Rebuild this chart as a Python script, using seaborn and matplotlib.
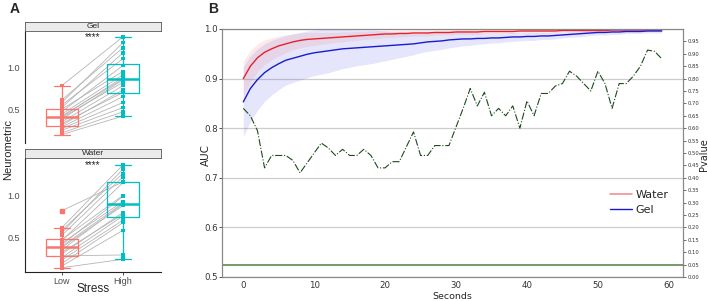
import numpy as np
import pandas as pd
import matplotlib
matplotlib.use("Agg")
import matplotlib.pyplot as plt
import seaborn as sns
from matplotlib.lines import Line2D

# ---- Panel A data: paired neurometric values per subject ----
stress_levels = ["Low", "High"]
gel_low = [0.78, 0.61, 0.58, 0.55, 0.52, 0.50, 0.47, 0.44, 0.42, 0.41,
           0.40, 0.38, 0.35, 0.33, 0.31, 0.29, 0.27, 0.25, 0.22, 0.20]
gel_high = [1.36, 1.23, 1.29, 1.10, 1.17, 0.95, 1.02, 0.91, 0.86, 0.88,
            0.82, 0.85, 0.78, 0.70, 0.73, 0.65, 0.58, 0.52, 0.47, 0.42]
water_low = [0.82, 0.62, 0.59, 0.56, 0.53, 0.48, 0.47, 0.44, 0.42, 0.40,
             0.39, 0.36, 0.33, 0.31, 0.29, 0.27, 0.24, 0.20, 0.17, 0.15]
water_high = [1.16, 1.36, 1.26, 1.31, 1.22, 1.00, 1.15, 0.93, 0.99, 0.91,
              0.88, 0.90, 0.78, 0.80, 0.30, 0.76, 0.71, 0.68, 0.59, 0.25]

# ---- Panel B data: AUC over time and p-value ----
seconds = list(range(60))
water_auc = [0.900, 0.925, 0.942, 0.953, 0.960, 0.966, 0.970, 0.974, 0.977, 0.979,
             0.980, 0.981, 0.982, 0.983, 0.984, 0.985, 0.986, 0.987, 0.988, 0.989,
             0.990, 0.990, 0.991, 0.991, 0.992, 0.992, 0.992, 0.993, 0.993, 0.993,
             0.994, 0.994, 0.994, 0.994, 0.995, 0.995, 0.995, 0.995, 0.995, 0.996,
             0.996, 0.996, 0.996, 0.996, 0.996, 0.997, 0.997, 0.997, 0.997, 0.997,
             0.997, 0.997, 0.998, 0.998, 0.998, 0.998, 0.998, 0.998, 0.998, 0.998]
water_spread = [0.035, 0.032, 0.028, 0.025, 0.022, 0.020, 0.018, 0.016, 0.015, 0.014,
                0.013, 0.012, 0.011, 0.010, 0.010, 0.009, 0.009, 0.008, 0.008, 0.008,
                0.007, 0.007, 0.007, 0.006, 0.006, 0.006, 0.006, 0.005, 0.005, 0.005,
                0.005, 0.005, 0.005, 0.005, 0.004, 0.004, 0.004, 0.004, 0.004, 0.004,
                0.004, 0.004, 0.004, 0.004, 0.004, 0.003, 0.003, 0.003, 0.003, 0.003,
                0.003, 0.003, 0.003, 0.003, 0.003, 0.003, 0.003, 0.003, 0.003, 0.003]
gel_auc = [0.853, 0.880, 0.898, 0.912, 0.922, 0.930, 0.937, 0.941, 0.945, 0.949,
           0.952, 0.954, 0.956, 0.958, 0.960, 0.961, 0.962, 0.963, 0.964, 0.965,
           0.966, 0.967, 0.968, 0.969, 0.970, 0.972, 0.974, 0.975, 0.976, 0.978,
           0.979, 0.980, 0.980, 0.981, 0.981, 0.982, 0.982, 0.983, 0.984, 0.984,
           0.985, 0.985, 0.986, 0.986, 0.987, 0.988, 0.989, 0.990, 0.991, 0.992,
           0.993, 0.993, 0.994, 0.994, 0.995, 0.995, 0.995, 0.996, 0.996, 0.996]
gel_spread = [0.070, 0.066, 0.062, 0.058, 0.055, 0.052, 0.050, 0.049, 0.048, 0.047,
              0.046, 0.045, 0.044, 0.042, 0.040, 0.038, 0.036, 0.035, 0.034, 0.032,
              0.030, 0.028, 0.026, 0.024, 0.022, 0.020, 0.019, 0.018, 0.017, 0.016,
              0.015, 0.014, 0.013, 0.012, 0.011, 0.010, 0.010, 0.009, 0.009, 0.008,
              0.008, 0.008, 0.007, 0.007, 0.007, 0.006, 0.006, 0.006, 0.006, 0.005,
              0.005, 0.005, 0.005, 0.005, 0.004, 0.004, 0.004, 0.004, 0.004, 0.004]
pvalues = [0.68, 0.65, 0.59, 0.44, 0.49, 0.49, 0.49, 0.47, 0.42, 0.46,
           0.50, 0.54, 0.52, 0.49, 0.515, 0.49, 0.49, 0.515, 0.49, 0.44,
           0.44, 0.465, 0.465, 0.525, 0.585, 0.49, 0.49, 0.53, 0.53, 0.53,
           0.605, 0.68, 0.76, 0.69, 0.745, 0.65, 0.68, 0.65, 0.69, 0.60,
           0.71, 0.65, 0.74, 0.74, 0.77, 0.78, 0.83, 0.81, 0.78, 0.75,
           0.83, 0.78, 0.68, 0.78, 0.78, 0.81, 0.85, 0.915, 0.91, 0.88]
alpha_level = 0.05

sns.set_style("white")
plt.rcParams["font.family"] = ["DejaVu Sans"]

W, H = 708, 301
fig = plt.figure(figsize=(W / 100, H / 100), dpi=100)


def px_axes(left, top, right, bottom):
    return fig.add_axes([left / W, 1 - bottom / H, (right - left) / W, (bottom - top) / H])


stress_pal = {"Low": "#F8766D", "High": "#00BFC4"}
arial = ["Liberation Sans", "DejaVu Sans"]

panels = [("Gel", gel_low, gel_high, 30, 143, 22),
          ("Water", water_low, water_high, 158, 272, 149)]

for name, low, high, top, bottom, strip_top in panels:
    df = pd.DataFrame({
        "subject": list(range(len(low))) * 2,
        "Stress": ["Low"] * len(low) + ["High"] * len(high),
        "Neurometric": low + high,
    })
    ax = px_axes(25, top, 161, bottom)
    # paired lines
    wide = df.pivot(index="subject", columns="Stress", values="Neurometric")
    for _, row in wide.iterrows():
        ax.plot([0, 1], [row["Low"], row["High"]], color="#b5b5b5", lw=0.6, zorder=1)
    sns.boxplot(data=df, x="Stress", y="Neurometric", hue="Stress", order=stress_levels,
                hue_order=stress_levels, palette=stress_pal, fill=False, width=0.52,
                linewidth=0.9, medianprops=dict(linewidth=1.8),
                flierprops=dict(marker="s", markersize=2.5), legend=False, ax=ax)
    sns.stripplot(data=df, x="Stress", y="Neurometric", hue="Stress", order=stress_levels,
                  hue_order=stress_levels, palette=stress_pal, jitter=False, size=2.6,
                  marker="s", legend=False, ax=ax, zorder=3)
    ax.set_xlim(-0.6, 1.62)
    ax.set_ylim(0.1, 1.44)
    ax.set_yticks([0.5, 1.0])
    ax.set_yticklabels(["0.5", "1.0"], family=arial, fontsize=6.5, color="#4d4d4d")
    ax.tick_params(axis="y", length=2, width=0.6, color="#333333", pad=1.5)
    ax.set_ylabel("")
    ax.set_xlabel("")
    for s in ["top", "right"]:
        ax.spines[s].set_visible(False)
    ax.spines["left"].set_color("#222222")
    ax.spines["left"].set_linewidth(0.8)
    if name == "Gel":
        ax.spines["bottom"].set_visible(False)
        ax.set_xticks([])
    else:
        ax.spines["bottom"].set_color("#222222")
        ax.spines["bottom"].set_linewidth(0.8)
        ax.set_xticks([0, 1])
        ax.set_xticklabels(stress_levels, family=arial, fontsize=6.5, color="#4d4d4d")
        ax.tick_params(axis="x", length=2, width=0.6, color="#333333", pad=1.5, bottom=True)
    ax.text(0.5, 1.36, "****", ha="center", va="center", fontsize=7, family=arial, color="#222222")
    # facet strip
    sax = px_axes(25, strip_top, 161, strip_top + 8.5)
    sax.set_facecolor("#ebebeb")
    sax.set_xticks([])
    sax.set_yticks([])
    for s in sax.spines.values():
        s.set_color("#555555")
        s.set_linewidth(0.6)
    sax.text(0.5, 0.45, name, ha="center", va="center", fontsize=6, family=arial,
             transform=sax.transAxes)

fig.text(8 / W, 1 - 150 / H, "Neurometric", rotation=90, ha="center", va="center",
         family=arial, fontsize=8)
fig.text(93 / W, 1 - 289 / H, "Stress", ha="center", va="center", family=arial, fontsize=8.5)

# ---- Panel B ----
axb = px_axes(222, 29, 683, 277)
t = np.array(seconds)
w_auc, w_sp = np.array(water_auc), np.array(water_spread)
g_auc, g_sp = np.array(gel_auc), np.array(gel_spread)
axb.fill_between(t, g_auc - g_sp, np.minimum(g_auc + g_sp, 1.0), color="#4848e8", alpha=0.14, lw=0)
axb.fill_between(t, w_auc - w_sp, np.minimum(w_auc + w_sp, 1.0), color="#f08080", alpha=0.16, lw=0)
sns.lineplot(x=t, y=w_auc, color="#e8202a", lw=1.0, ax=axb)
sns.lineplot(x=t, y=g_auc, color="#1a1ad0", lw=1.0, ax=axb)
axb.set_xlim(-3, 62)
axb.set_ylim(0.5, 1.0)
axb.set_yticks([0.5, 0.6, 0.7, 0.8, 0.9, 1.0])
axb.set_xticks([0, 10, 20, 30, 40, 50, 60])
axb.grid(axis="y", color="#cccccc", lw=0.9)
axb.tick_params(labelsize=6.2, colors="#333333", length=2, width=0.6, pad=0.8)
for s in axb.spines.values():
    s.set_color("#888888")
    s.set_linewidth(0.8)
axb.set_xlabel("")
axb.set_ylabel("")
fig.text(452 / W, 1 - 301 / H, "Seconds", ha="center", va="bottom", fontsize=6.8)
fig.text(206 / W, 1 - 155 / H, "AUC", rotation=90, ha="center", va="center", fontsize=7.5)

axp = axb.twinx()
sns.lineplot(x=t, y=pvalues, color="#1e4a1e", lw=0.8, linestyle="-.", ax=axp)
axp.axhline(alpha_level, color="#4f7f3f", lw=1.1)
axp.set_ylim(0, 1.0)
axp.set_yticks(np.arange(0, 0.96, 0.05))
axp.set_yticklabels([f"{v:.2f}" for v in np.arange(0, 0.96, 0.05)])
axp.tick_params(labelsize=3.8, colors="#333333", length=2, width=0.5, pad=1)
axp.set_ylabel("")
fig.text(703.5 / W, 1 - 155 / H, "Pvalue", rotation=90, ha="center", va="center", fontsize=7)
for s in axp.spines.values():
    s.set_color("#888888")
    s.set_linewidth(0.8)

handles = [Line2D([], [], color="#e8202a", alpha=0.5, lw=1.2),
           Line2D([], [], color="#1a1ad0", lw=1.0)]
axp.legend(handles, ["Water", "Gel"], loc="center right", bbox_to_anchor=(0.99, 0.30),
           fontsize=8, frameon=False, handlelength=2.0, handletextpad=0.3,
           labelspacing=0.4)

fig.text(10 / W, 1 - 9 / H, "A", fontsize=10, fontweight="bold", va="center", family=arial)
fig.text(208 / W, 1 - 9 / H, "B", fontsize=10, fontweight="bold", va="center", family=arial)

fig.savefig("out.png", dpi=100)
